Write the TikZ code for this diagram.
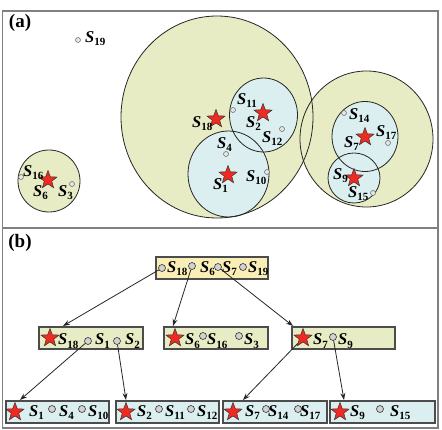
\documentclass[tikz,border=0pt]{standalone}
\usepackage{fontspec}
\setmainfont{Liberation Serif}
\usetikzlibrary{shapes.geometric,arrows.meta}
\definecolor{cyel}{HTML}{E8ECC4}
\definecolor{cblu}{HTML}{DCEFF0}
\definecolor{croot}{HTML}{F9EFB6}
\definecolor{cstar}{HTML}{EE2A22}
\newcommand\slab[1]{\textbf{\textit{S}}\raisebox{-3pt}{\fontsize{11}{11}\selectfont\textbf{#1}}}
\tikzset{
  lab/.style={anchor=base west, inner sep=0pt, font=\fontsize{16.5}{16.5}\selectfont},
  apt/.style={circle, draw=black!60, fill=gray!20, line width=0.5pt, inner sep=0pt, minimum size=5pt},
  bpt/.style={circle, draw=black!80, fill=gray!35, line width=0.6pt, inner sep=0pt, minimum size=7pt},
  rstar/.style={star, star points=5, star point ratio=2.4, draw=black!80, fill=cstar, line width=0.5pt, inner sep=0pt, minimum size=19pt},
  ring/.style={draw=black!85, line width=0.8pt},
  ybox/.style={draw=black!70, line width=1.1pt, fill=cyel},
  bbox/.style={draw=black!70, line width=1.1pt, fill=cblu},
  rbox/.style={draw=black!70, line width=1.1pt, fill=croot},
  arr/.style={-{Stealth[length=7pt,width=5pt]}, line width=0.8pt, draw=black!85},
  frame/.style={draw=gray, line width=1.5pt},
  plab/.style={font=\bfseries\fontsize{19}{19}\selectfont, inner sep=0pt}
}
\begin{document}
\begin{tikzpicture}[x=1pt,y=-1pt]
\useasboundingbox (0,0) rectangle (442,430);
% ---------- panel (a) ----------
\fill[cyel] (217,117) ellipse[x radius=96, y radius=101];
\fill[cyel] (366.5,139) ellipse[x radius=66.5, y radius=68];
\fill[cyel] (49,181) circle[radius=31];
\fill[cblu] (263.5,115) ellipse[x radius=34, y radius=37];
\fill[cblu] (228.5,174) ellipse[x radius=40.5, y radius=43];
\fill[cblu] (365,136.5) ellipse[x radius=33, y radius=35];
\fill[cblu] (354,178) ellipse[x radius=26, y radius=25];
\draw[ring] (217,117) ellipse[x radius=96, y radius=101];
\draw[ring] (366.5,139) ellipse[x radius=66.5, y radius=68];
\draw[ring] (49,181) circle[radius=31];
\draw[ring] (263.5,115) ellipse[x radius=34, y radius=37];
\draw[ring] (228.5,174) ellipse[x radius=40.5, y radius=43];
\draw[ring] (365,136.5) ellipse[x radius=33, y radius=35];
\draw[ring] (354,178) ellipse[x radius=26, y radius=25];
% points
\node[apt] (a19) at (78,40) {};
\node[apt] (a16) at (21,177) {};
\node[apt] (a3) at (72,184) {};
\node[apt] (a11) at (233,110) {};
\node[apt] (a12) at (282,129) {};
\node[apt] (a4) at (226,154) {};
\node[apt] (a10) at (267,172) {};
\node[apt] (a14) at (344,113) {};
\node[apt] (a17) at (388,143) {};
\node[apt] (a15) at (373,193) {};
% stars
\node[rstar] (as6) at (48,180) {};
\node[rstar] (as18) at (216,119) {};
\node[rstar] (as2) at (263,113) {};
\node[rstar] (as1) at (228,175) {};
\node[rstar] (as7) at (365,137) {};
\node[rstar] (as9) at (354,178) {};
% labels
\node[lab] (l19) at (85,43) {\slab{19}};
\node[lab] (l16) at (23,177) {\slab{16}};
\node[lab] (l6) at (33,197) {\slab{6}};
\node[lab] (l3) at (58,197) {\slab{3}};
\node[lab] (l18) at (192,128) {\slab{18}};
\node[lab] (l11) at (237,105) {\slab{11}};
\node[lab] (l2) at (246,128) {\slab{2}};
\node[lab] (l12) at (262,143) {\slab{12}};
\node[lab] (l4) at (217,149) {\slab{4}};
\node[lab] (l1) at (213,190) {\slab{1}};
\node[lab] (l10) at (246,182) {\slab{10}};
\node[lab] (l14) at (349,120) {\slab{14}};
\node[lab] (l17) at (376,137) {\slab{17}};
\node[lab] (l7) at (344,148) {\slab{7}};
\node[lab] (l9) at (333,180) {\slab{9}};
\node[lab] (l15) at (348,198) {\slab{15}};
% ---------- panel (b) ----------
\draw[rbox] (156,257) rectangle (268,279);
\draw[ybox] (39,327) rectangle (143,349);
\draw[ybox] (164,327) rectangle (268,349);
\draw[ybox] (292,327) rectangle (395,349);
\draw[bbox] (6,401) rectangle (109,423);
\draw[bbox] (116,401) rectangle (219,423);
\draw[bbox] (223,401) rectangle (327,423);
\draw[bbox] (330,401) rectangle (435,423);
% root
\node[bpt] (r18) at (162,268) {};
\node[lab] (rl18) at (167,273) {\slab{18}};
\node[bpt] (r6) at (192,266) {};
\node[lab] (rl6) at (200,273) {\slab{6}};
\node[bpt] (r7) at (218,267) {};
\node[lab] (rl7) at (222,273) {\slab{7}};
\node[bpt] (r19) at (243,267) {};
\node[lab] (rl19) at (248,273) {\slab{19}};
% level 2
\node[rstar] (m1s) at (50,338) {};
\node[lab] (ml18) at (58,345) {\slab{18}};
\node[bpt] (m1) at (88,341) {};
\node[lab] (ml1) at (95,345) {\slab{1}};
\node[bpt] (m2) at (117,341) {};
\node[lab] (ml2) at (125,345) {\slab{2}};
\node[rstar] (m6s) at (175,338) {};
\node[lab] (ml6) at (185,345) {\slab{6}};
\node[bpt] (m16) at (203,336) {};
\node[lab] (ml16) at (207,345) {\slab{16}};
\node[bpt] (m3) at (239,336) {};
\node[lab] (ml3) at (244,345) {\slab{3}};
\node[rstar] (m7s) at (303,338) {};
\node[lab] (ml7) at (313,345) {\slab{7}};
\node[bpt] (m9) at (333,337) {};
\node[lab] (ml9) at (338,345) {\slab{9}};
% level 3
\node[rstar] (b1s) at (15,412) {};
\node[lab] (bl1) at (29,417) {\slab{1}};
\node[bpt] (b4) at (52,409) {};
\node[lab] (bl4) at (59,417) {\slab{4}};
\node[bpt] (b10) at (82,409) {};
\node[lab] (bl10) at (88,417) {\slab{10}};
\node[rstar] (b2s) at (126,412) {};
\node[lab] (bl2) at (137,417) {\slab{2}};
\node[bpt] (b11) at (159,409) {};
\node[lab] (bl11) at (165,417) {\slab{11}};
\node[bpt] (b12) at (191,409) {};
\node[lab] (bl12) at (197,417) {\slab{12}};
\node[rstar] (b7s) at (233,412) {};
\node[lab] (bl7) at (245,417) {\slab{7}};
\node[bpt] (b14) at (266,409) {};
\node[lab] (bl14) at (268,417) {\slab{14}};
\node[bpt] (b17) at (298,409) {};
\node[lab] (bl17) at (300,417) {\slab{17}};
\node[rstar] (b9s) at (340,412) {};
\node[lab] (bl9) at (350,417) {\slab{9}};
\node[bpt] (b15) at (380,409) {};
\node[lab] (bl15) at (390,417) {\slab{15}};
% arrow targets
\coordinate (t1) at (63,326);
\coordinate (t2) at (173,326);
\coordinate (t3) at (293,326);
\coordinate (t4) at (20,400);
\coordinate (t5) at (126,400);
\coordinate (t6) at (243,400);
\coordinate (t7) at (344,400);
\draw[arr] (r18) -- (t1);
\draw[arr] (r6) -- (t2);
\draw[arr] (r7) -- (t3);
\draw[arr] (m1) -- (t4);
\draw[arr] (m2) -- (t5);
\draw[arr] (m7s) -- (t6);
\draw[arr] (m9) -- (t7);
% frame
\draw[frame] (2.5,11) rectangle (438,428);
\draw[frame] (2.5,228) -- (438,228);
\node[plab] (pa) at (20,23) {(a)};
\node[plab] (pb) at (20,243) {(b)};
\end{tikzpicture}
\end{document}
